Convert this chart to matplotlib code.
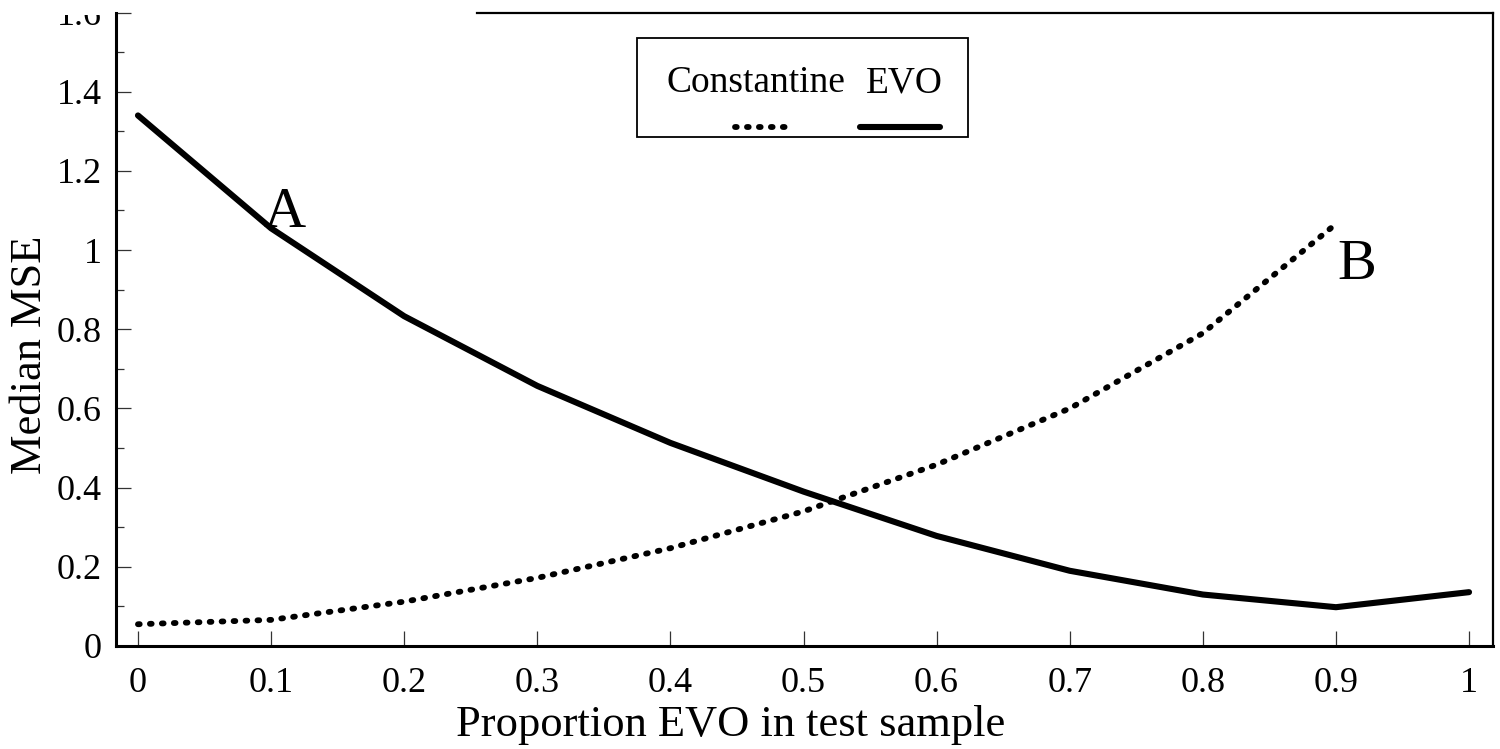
import matplotlib
matplotlib.use('Agg')
import matplotlib.pyplot as plt
import numpy as np
from matplotlib.lines import Line2D
from matplotlib.patches import Rectangle

plt.rcParams['font.family'] = ['Liberation Serif', 'DejaVu Serif']

# Proportion of EVO items in the test sample
proportion = [0.0, 0.1, 0.2, 0.3, 0.4, 0.5, 0.6, 0.7, 0.8, 0.9, 1.0]

# Median MSE for each model
evo_mse = [1.34, 1.055, 0.833, 0.657, 0.513, 0.39, 0.278, 0.19, 0.13, 0.098, 0.136]
constantine_prop = [0.0, 0.1, 0.2, 0.3, 0.4, 0.5, 0.6, 0.7, 0.8, 0.9]
constantine_mse = [0.055, 0.066, 0.112, 0.172, 0.247, 0.34, 0.458, 0.6, 0.79, 1.066]

y_ticks = [0, 0.2, 0.4, 0.6, 0.8, 1.0, 1.2, 1.4, 1.6]
y_tick_labels = ['0', '0.2', '0.4', '0.6', '0.8', '1', '1.2', '1.4', '1.6']
x_ticks = [0, 0.1, 0.2, 0.3, 0.4, 0.5, 0.6, 0.7, 0.8, 0.9, 1.0]
x_tick_labels = ['0', '0.1', '0.2', '0.3', '0.4', '0.5', '0.6', '0.7', '0.8', '0.9', '1']

W, H = 1500, 749


def px(x, y):
    # pixel position -> figure fraction
    return x / W, 1 - y / H


fig = plt.figure(figsize=(15, 7.49), dpi=100)
ax = fig.add_axes([116 / W, 1 - 646 / H, (1493 - 116) / W, (646 - 12.5) / H])

dotted = dict(color='black', linewidth=4.2, linestyle=(0, (0.3, 1.75)),
              dash_capstyle='round', solid_capstyle='round')
solid = dict(color='black', linewidth=4.4, linestyle='-', solid_capstyle='round')

ax.plot(constantine_prop, constantine_mse, **dotted)
ax.plot(proportion, evo_mse, **solid)

ax.set_xlim(-0.0165, 1.018)
ax.set_ylim(0, 1.6)

ax.set_xticks(x_ticks)
ax.set_xticklabels(x_tick_labels)
ax.set_yticks(y_ticks)
ax.set_yticklabels(y_tick_labels)
ax.set_yticks(np.arange(0.1, 1.6, 0.2), minor=True)

ax.tick_params(axis='both', which='major', direction='in', length=10.5, width=0.9,
               labelsize=26, color='#333333')
ax.tick_params(axis='y', which='minor', direction='in', length=5.5, width=0.9,
               color='#333333')
ax.tick_params(axis='y', which='major', pad=10)
ax.tick_params(axis='x', which='major', pad=15)

for s in ['left', 'bottom']:
    ax.spines[s].set_linewidth(2.2)
ax.spines['right'].set_linewidth(1.6)
ax.spines['top'].set_linewidth(1.6)
ax.spines['top'].set_bounds(0.255, 1.018)

ax.set_xlabel('Proportion EVO in test sample', fontsize=32)
ax.xaxis.set_label_coords(0.4466, -0.093)
ax.set_ylabel('Median MSE', fontsize=32)
ax.yaxis.set_label_coords(-0.048, 0.459)

# curve labels
ax.text(0.11, 1.093, 'A', fontsize=42, ha='center', va='center')
ax.text(0.916, 0.962, 'B', fontsize=42, ha='center', va='center')

# legend: labels on top, line samples underneath
x0, y0 = px(637, 137)
x1, y1 = px(968, 38)
fig.patches.append(Rectangle((x0, y0), x1 - x0, y1 - y0, transform=fig.transFigure,
                             fill=False, edgecolor='black', linewidth=1.3, zorder=3))
lx, ly = px(756, 83)
fig.text(lx, ly, 'Constantine', fontsize=27, ha='center', va='center')
lx, ly = px(904, 83)
fig.text(lx, ly, 'EVO', fontsize=27, ha='center', va='center')
(a, b), (c, d) = px(735, 127), px(792, 127)
fig.add_artist(Line2D([a, c], [b, d], transform=fig.transFigure, **dotted))
(a, b), (c, d) = px(860, 127), px(940, 127)
fig.add_artist(Line2D([a, c], [b, d], transform=fig.transFigure, **solid))

# top edge of the page trims the highest tick label
mx, my = px(0, 15)
fig.patches.append(Rectangle((mx, my), 110 / W, 1 - my, transform=fig.transFigure,
                             facecolor='white', edgecolor='none', zorder=5))

fig.savefig('out.png', dpi=100)
